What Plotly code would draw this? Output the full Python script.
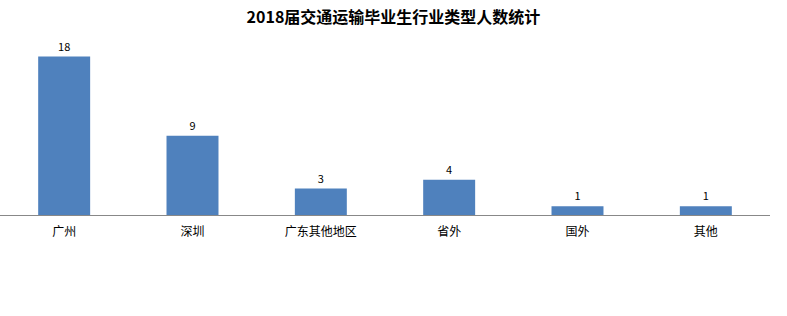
import plotly.graph_objects as go

categories = ["广州", "深圳", "广东其他地区", "省外", "国外", "其他"]
values = [18, 9, 3, 4, 1, 1]
title = "2018届交通运输毕业生行业类型人数统计"

fig = go.Figure(go.Bar(
    x=categories, y=values,
    marker=dict(color="#4F81BD", line=dict(width=0)),
    text=[str(v) for v in values], textposition="outside",
    textfont=dict(size=11, color="#000000", family="Noto Sans CJK SC"),
    cliponaxis=False,
))
fig.update_layout(
    width=787, height=316,
    margin=dict(l=0, r=17, t=39, b=101),
    paper_bgcolor="white", plot_bgcolor="white",
    bargap=0.595,
    showlegend=False,
    title=dict(text="<b>" + title + "</b>", x=0.5, xanchor="center", y=0.945, yanchor="middle",
               font=dict(size=16, color="#000000", family="Noto Sans CJK SC")),
    font=dict(family="Noto Sans CJK SC", size=12, color="#000000"),
)
fig.update_xaxes(showline=True, linecolor="#888888", linewidth=1, ticks="",
                 ticklabelstandoff=6,
                 tickfont=dict(size=12, color="#000000"), showgrid=False)
fig.update_yaxes(range=[0, 20], visible=False, showgrid=False, zeroline=False)
fig.write_html("out.html")
